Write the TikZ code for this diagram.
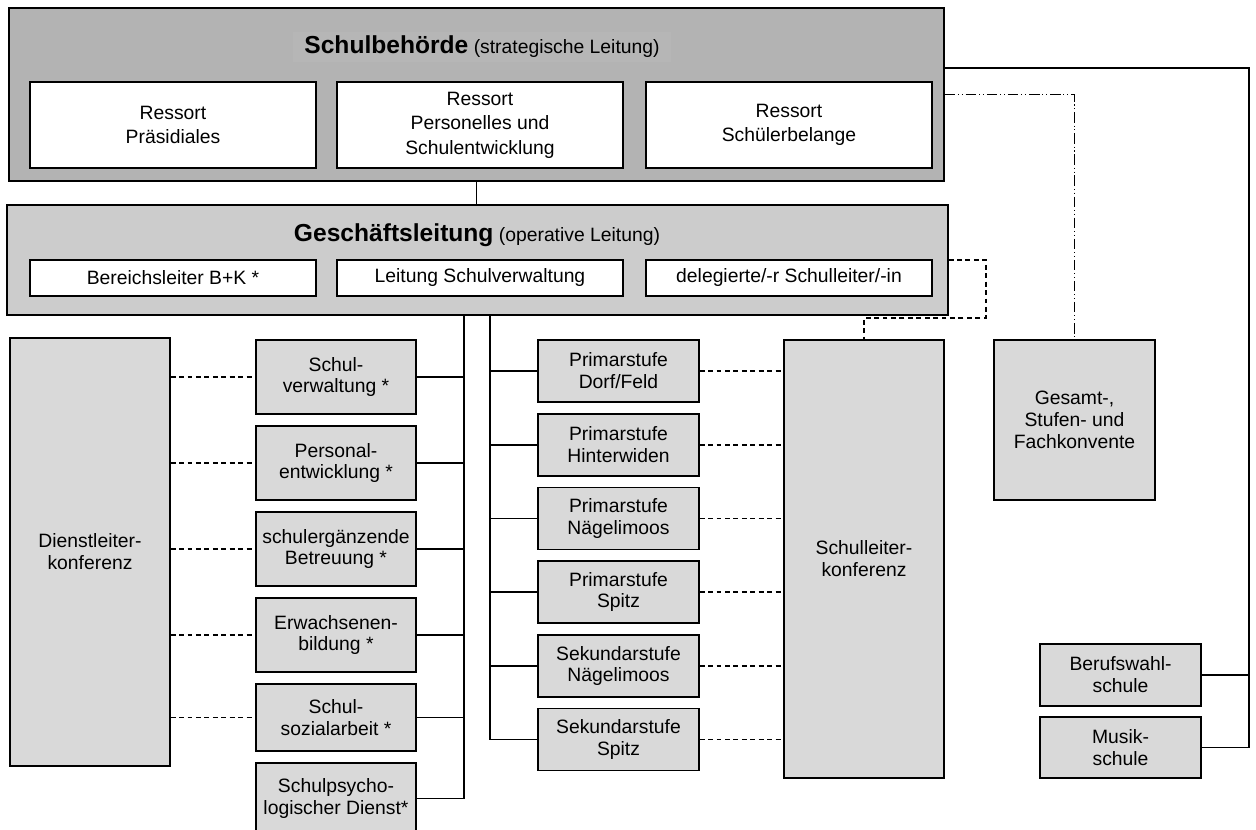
\documentclass[tikz,border=0pt]{standalone}
\usepackage{fontspec}
\setmainfont{Liberation Sans}
\usepackage{tikz}
\definecolor{sbgray}{HTML}{B3B3B3}
\definecolor{sbtitlegray}{HTML}{B6B6B6}
\definecolor{glgray}{HTML}{CCCCCC}
\definecolor{unitgray}{HTML}{D9D9D9}
\tikzset{
  base/.style={draw=black, line width=0.8pt, align=center, inner sep=2pt, font=\fontsize{11}{12.5}\selectfont},
  sbframe/.style={base, fill=sbgray},
  glframe/.style={base, fill=glgray},
  ressort/.style={base, fill=white, minimum width=5.72cm, font=\fontsize{11}{14}\selectfont},
  unit/.style={base, fill=unitgray, minimum width=3.2cm},
  stufe/.style={base, fill=unitgray, minimum width=3.22cm, minimum height=1.24cm},
  headline/.style={inner sep=0pt, font=\fontsize{11}{14}\selectfont},
  link/.style={line width=0.7pt},
  dlink/.style={link, dash pattern=on 2.8pt off 2pt},
  ddlink/.style={link, dash pattern=on 6pt off 1.6pt on 0.6pt off 1.6pt on 0.6pt off 1.6pt},
}
\begin{document}
\begin{tikzpicture}[x=0.02cm,y=-0.02cm]
\useasboundingbox (0,0) rectangle (1256,830);

\node[sbframe, minimum width=18.7cm, minimum height=3.46cm] (sb) at (476.5,94.5) {};
\node[headline, fill=sbtitlegray, minimum width=7.58cm, minimum height=0.6cm] (sbtitle) at (482,47)
  {{\bfseries\fontsize{14}{16}\selectfont Schulbehörde} (strategische Leitung)};
\node[ressort, minimum height=1.72cm] (r1) at (173,125) {Ressort\\Präsidiales};
\node[ressort, minimum height=1.72cm] (r2) at (480,125) {Ressort\\Personelles und\\Schulentwicklung};
\node[ressort, minimum height=1.72cm] (r3) at (789,125) {Ressort\\Schülerbelange};

\node[glframe, minimum width=18.82cm, minimum height=2.2cm] (gl) at (477.5,260) {};
\node[headline] (gltitle) at (477,235)
  {{\bfseries\fontsize{14}{16}\selectfont Geschäftsleitung} (operative Leitung)};
\node[ressort, minimum height=0.72cm] (b1) at (173,278) {Bereichsleiter B+K *};
\node[ressort, minimum height=0.72cm] (b2) at (480,278) {Leitung Schulverwaltung};
\node[ressort, minimum height=0.72cm] (b3) at (789,278) {delegierte/-r Schulleiter/-in};

\draw[link] (sb.south) -- (sb.south |- gl.north);

\node[unit, minimum height=8.56cm] (dienst) at (90,552) {Dienstleiter-\\konferenz};
\foreach \n/\y/\h/\t in {l1/377/1.48/{Schul-\\verwaltung *},
                         l2/463/1.48/{Personal-\\entwicklung *},
                         l3/549/1.48/{schulergänzende\\Betreuung *},
                         l4/635/1.48/{Erwachsenen-\\bildung *},
                         l5/717.5/1.34/{Schul-\\sozialarbeit *},
                         l6/798.5/1.42/{Schulpsycho-\\logischer Dienst*}}
  \node[unit, minimum height=\h cm] (\n) at (336,\y) {\t};

\foreach \n/\y/\t in {p1/371/{Primarstufe\\Dorf/Feld},
                      p2/445/{Primarstufe\\Hinterwiden},
                      p3/518.5/{Primarstufe\\Nägelimoos},
                      p4/592/{Primarstufe\\Spitz},
                      p5/666/{Sekundarstufe\\Nägelimoos},
                      p6/739.5/{Sekundarstufe\\Spitz}}
  \node[stufe] (\n) at (618.5,\y) {\t};

\node[unit, minimum height=8.76cm] (sl) at (864,559) {Schulleiter-\\konferenz};
\node[unit, minimum width=3.22cm, minimum height=3.2cm] (gesamt) at (1074.5,420) {Gesamt-,\\Stufen- und\\Fachkonvente};
\node[stufe] (beruf) at (1120.5,675) {Berufswahl-\\schule};
\node[stufe, minimum height=1.22cm] (musik) at (1120.5,747.5) {Musik-\\schule};

\coordinate (lbus) at (464,0);
\coordinate (pbus) at (490,0);
\draw[link] (lbus |- gl.south) -- (lbus |- l6.east);
\draw[link] (pbus |- gl.south) -- (pbus |- p6.west);
\foreach \n in {l1,l2,l3,l4,l5,l6}
  \draw[link] (\n.east) -- (\n.east -| lbus);
\foreach \n in {l1,l2,l3,l4,l5}
  \draw[dlink] (dienst.east |- \n.west) -- (\n.west);
\foreach \n in {p1,p2,p3,p4,p5,p6} {
  \draw[link] (\n.west) -- (\n.west -| pbus);
  \draw[dlink] (\n.east) -- (\n.east -| sl.west);
}

\coordinate (rbus) at (1249,68);
\draw[link] (sb.east |- rbus) -- (rbus) |- (musik.east);
\draw[link] (beruf.east) -- (beruf.east -| rbus);
\draw[ddlink] (sb.east) -| (gesamt.north);
\coordinate (dk) at (986,318);
\draw[dlink] (gl.east) -| (dk) -| (sl.north);
\end{tikzpicture}
\end{document}
